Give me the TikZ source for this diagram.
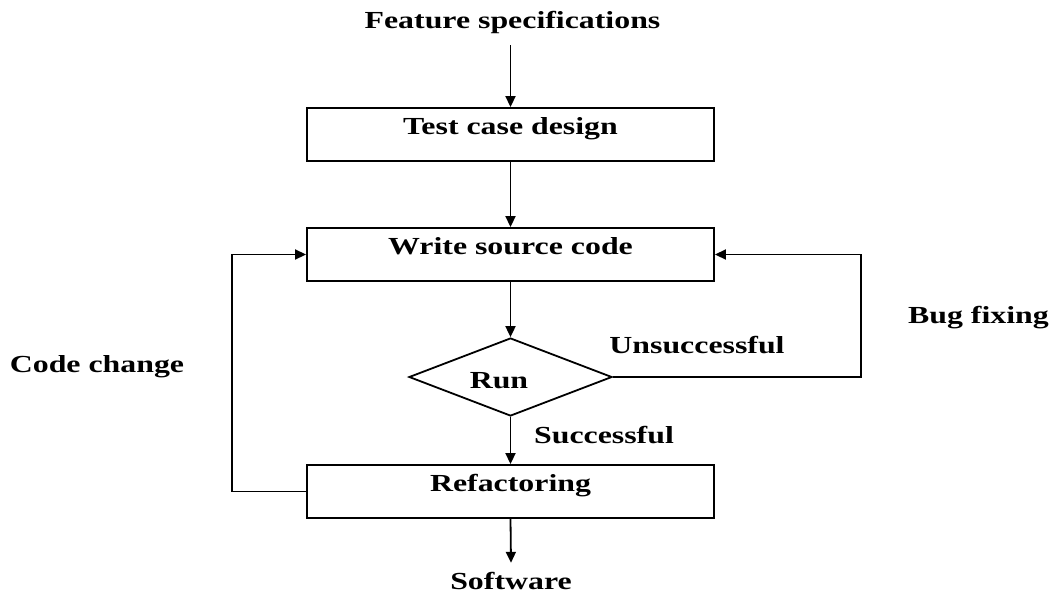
\documentclass[tikz,border=0pt]{standalone}
\usepackage{fontspec}
\usepackage{graphicx}
\setmainfont{Liberation Serif}
\usetikzlibrary{shapes.geometric,arrows.meta}
\newcommand{\sx}[1]{\scalebox{1.3}[1]{#1}}
\tikzset{
  lbl/.style={inner sep=0pt, anchor=base, font=\fontsize{24.5}{28}\selectfont\bfseries},
  stepbox/.style={draw, line width=1.9pt, minimum width=407pt, inner sep=0pt,
    text height=26pt, text depth=27pt, font=\fontsize{24.5}{28}\selectfont\bfseries},
  decision/.style={draw, shape=diamond, line width=1.8pt, minimum width=203pt,
    minimum height=78pt, inner sep=0pt},
  arr/.style={line width=1.8pt, -{Triangle[length=11pt,width=10pt]}}
}
\begin{document}
\begin{tikzpicture}[x=1pt,y=-1pt]
\useasboundingbox (0,0) rectangle (1051,595);
% nodes
\node[lbl, text depth=17pt] (feat) at (512.5,28) {\sx{Feature specifications}};
\node[stepbox] (b1) at (510.5,134.5) {\sx{Test case design}};
\node[stepbox] (b2) at (510.5,254.5) {\sx{Write source code}};
\node[decision] (run) at (510.5,377) {};
\node[lbl] (runlbl) at (499,388) {\sx{Run}};
\node[stepbox] (b3) at (510.5,491.5) {\sx{Refactoring}};
\node[lbl, text height=26pt] (soft) at (511,589) {\sx{Software}};
\node[lbl] (unsucc) at (697,353) {\sx{Unsuccessful}};
\node[lbl] (succ) at (604,443) {\sx{Successful}};
\node[lbl] (bug) at (978.5,323) {\sx{Bug fixing}};
\node[lbl] (cchg) at (97,372) {\sx{Code change}};
\coordinate (cl) at (232,400);
\coordinate (cr) at (861,300);
% connectors
\draw[arr] (feat.south -| b1.north) -- (b1.north);
\draw[arr] (b1.south) -- (b2.north);
\draw[arr] (b2.south) -- (run.north);
\draw[arr] (run.south) -- (b3.north);
\draw[arr] (b3.south) -- (soft.north);
\draw[arr] (b3.west) -- (b3.west -| cl) -- (b2.west -| cl) -- (b2.west);
\draw[arr] (run.east) -- (run.east -| cr) -- (b2.east -| cr) -- (b2.east);
\end{tikzpicture}
\end{document}
